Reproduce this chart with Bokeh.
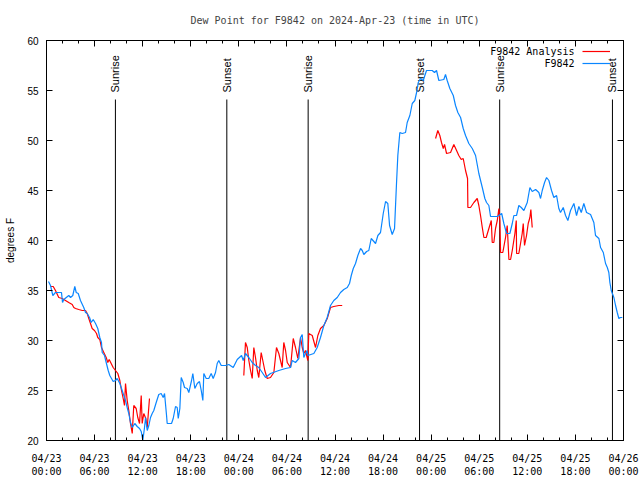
import math
from bokeh.plotting import figure
from bokeh.models import (Range1d, LinearAxis, FixedTicker, Legend, LegendItem, Label,
                          CustomLabelingPolicy)
from bokeh.embed import file_html
from bokeh.resources import INLINE

# ---------------- data (hours since 2024-04-23 00:00 UTC, dew point in F) ----------------
title_text = "Dew Point for F9842 on 2024-Apr-23 (time in UTC)"
y_label = "degrees F"
series_names = ["F9842 Analysis", "F9842"]

x_ticks = [0, 6, 12, 18, 24, 30, 36, 42, 48, 54, 60, 66, 72]
x_minor_ticks = [2, 4, 8, 10, 14, 16, 20, 22, 26, 28, 32, 34, 38, 40, 44, 46, 50, 52, 56, 58, 62, 64, 68, 70]
x_tick_labels = ["04/23\n00:00", "04/23\n06:00", "04/23\n12:00", "04/23\n18:00",
                 "04/24\n00:00", "04/24\n06:00", "04/24\n12:00", "04/24\n18:00",
                 "04/25\n00:00", "04/25\n06:00", "04/25\n12:00", "04/25\n18:00",
                 "04/26\n00:00"]
y_ticks = [20, 25, 30, 35, 40, 45, 50, 55, 60]

sun_event_hours = [8.6, 22.5, 32.65, 46.55, 56.55, 70.62]
sun_event_names = ["Sunrise", "Sunset", "Sunrise", "Sunset", "Sunrise", "Sunset"]

blue_hours = [
    0.25, 0.5, 0.79, 1.12, 1.87, 2.0, 2.16, 2.78, 3.0, 3.28,
    3.53, 3.71, 3.96, 4.24, 4.65, 4.87, 5.08, 5.37, 5.58, 5.83,
    6.12, 6.40, 6.65, 6.86, 6.95, 7.24, 7.45, 7.70, 7.90, 8.11,
    8.32, 8.61, 8.82, 9.15, 9.36, 9.65, 9.86, 10.07, 10.27, 10.48,
    10.70, 11.02, 11.32, 11.61, 11.82, 12.02, 12.23, 12.36, 12.57, 12.77,
    12.98, 13.19, 13.39, 13.69, 14.01, 14.31, 14.56, 14.73, 14.98, 15.06,
    15.6, 15.81, 16.10, 16.31, 16.44, 16.64, 16.81, 17.06, 17.22, 17.56,
    17.76, 18.10, 18.26, 18.51, 18.81, 19.09, 19.31, 19.51, 19.63, 19.93,
    20.25, 20.55, 20.80, 21.09, 21.30, 21.50, 21.80, 22.34, 22.75, 23.30,
    23.80, 24.34, 24.55, 24.83, 25.25, 25.67, 26.08, 26.49, 26.92, 27.33,
    27.95, 28.99, 29.83, 30.45, 30.66, 31.07, 31.49, 31.70, 31.91, 32.11,
    32.32, 32.53, 32.61, 33.36, 33.78, 34.19, 34.61, 35.03, 35.44, 35.85,
    36.28, 36.69, 37.10, 37.53, 37.81, 38.03, 38.28, 38.56, 38.85, 39.19,
    39.40, 39.60, 39.94, 40.22, 40.52, 40.85, 41.06, 41.35, 41.68, 42.02,
    42.31, 42.59, 42.81, 43.14, 43.43, 43.68, 43.84, 44.09, 44.39, 44.80,
    45.01, 45.34, 45.64, 45.96, 46.18, 46.39, 46.67, 47.01, 47.42, 48.13,
    48.42, 48.67, 48.96, 49.58, 49.79, 50.0, 50.33, 50.76, 51.04, 51.33,
    51.67, 52.0, 52.29, 52.70, 53.13, 53.54, 53.95, 54.38, 54.70, 54.91,
    55.20, 55.41, 56.25, 56.8, 57.07, 57.41, 57.82, 58.12, 58.32, 58.65,
    58.94, 59.24, 59.57, 59.99, 60.32, 60.61, 61.03, 61.44, 61.65, 61.86,
    62.15, 62.40, 62.69, 63.02, 63.31, 63.65, 63.93, 64.14, 64.48, 64.77,
    65.06, 65.39, 65.81, 66.14, 66.43, 66.73, 67.05, 67.39, 67.89, 68.30,
    68.51, 68.93, 69.14, 69.48, 69.76, 69.98, 70.17, 70.30, 70.47, 70.80,
    71.01, 71.22, 71.42, 71.63, 71.85,
]
blue_dewpt = [
    35.9, 35.5, 34.5, 34.8, 34.8, 33.8, 34.1, 34.5, 34.3, 34.5,
    35.4, 34.8, 34.7, 34.0, 33.3, 32.8, 32.7, 32.3, 31.8, 32.1,
    31.7, 31.2, 30.3, 29.8, 28.8, 28.5, 27.8, 27.0, 26.5, 26.2,
    25.9, 26.0, 26.2, 25.7, 25.2, 24.5, 24.0, 23.3, 22.7, 21.8,
    21.3, 21.7, 21.4, 21.2, 20.9, 20.0, 21.3, 22.3, 21.0, 21.5,
    22.3, 22.7, 23.0, 23.8, 24.6, 24.7, 24.3, 24.7, 22.5, 21.7,
    21.7, 22.2, 23.4, 23.3, 22.2, 23.2, 26.3, 25.8, 25.3, 25.2,
    24.8, 26.0, 26.7, 25.2, 25.7, 25.9, 25.0, 24.0, 26.7, 26.2,
    26.2, 26.7, 26.2, 26.8, 27.7, 28.0, 27.5, 27.5, 27.6, 27.3,
    28.1, 28.5, 28.0, 28.7, 28.3, 27.8, 27.5, 27.3, 26.8, 26.3,
    26.7, 27.0, 27.2, 27.3, 28.0, 27.8, 28.2, 30.3, 30.6, 28.3,
    28.7, 29.0, 28.5, 28.7, 29.3, 30.3, 31.5, 32.3, 33.5, 34.0,
    34.3, 34.8, 35.1, 35.3, 35.7, 36.5, 37.2, 37.7, 38.5, 39.2,
    39.0, 38.6, 38.9, 39.0, 40.2, 39.9, 39.7, 40.5, 40.8, 42.7,
    43.9, 43.7, 41.5, 40.6, 41.2, 45.8, 48.5, 50.8, 50.7, 50.8,
    51.8, 52.5, 53.7, 54.0, 54.8, 55.8, 56.2, 56.0, 57.0, 57.0,
    56.8, 57.0, 56.0, 56.1, 56.6, 56.0, 55.2, 54.5, 53.5, 52.8,
    52.3, 51.2, 50.5, 49.7, 49.2, 48.5, 46.7, 45.3, 44.2, 43.8,
    43.5, 42.4, 42.4, 42.7, 41.7, 40.7, 40.7, 41.7, 42.5, 42.5,
    43.5, 43.3, 43.0, 43.8, 45.3, 44.9, 45.1, 44.8, 44.2, 45.0,
    45.8, 46.3, 46.0, 45.0, 44.3, 44.5, 43.2, 42.8, 43.3, 42.5,
    42.0, 43.0, 43.7, 42.5, 43.4, 42.8, 43.7, 42.8, 42.6, 41.8,
    40.5, 40.2, 39.3, 38.8, 37.7, 37.3, 36.8, 35.8, 35.0, 34.3,
    33.5, 32.8, 32.2, 32.3, 32.3,
]

red1_hours = [
    0.5, 0.84, 1.12, 1.53, 1.96, 2.37, 2.78, 3.21, 3.41, 3.62,
    4.03, 4.46, 4.87, 5.08, 5.28, 5.49, 5.70, 5.99, 6.24, 6.40,
    6.65, 6.86, 7.15, 7.45, 7.65, 7.82, 8.07, 8.32, 8.61, 8.90,
    9.15, 9.36, 9.57, 9.73, 9.86, 10.07, 10.27, 10.48, 10.70, 10.89,
    11.19, 11.39, 11.61, 11.82, 11.94, 12.14, 12.39, 12.57, 12.85,
]
red1_dewpt = [
    35.4, 35.4, 35.0, 34.3, 34.2, 34.0, 33.8, 33.6, 33.3, 33.2,
    33.1, 33.0, 33.0, 32.7, 32.2, 31.7, 31.2, 31.0, 30.7, 30.3,
    30.1, 29.3, 28.8, 28.3, 27.8, 28.1, 27.7, 27.3, 27.0, 26.7,
    26.0, 25.0, 24.2, 23.5, 25.7, 24.0, 23.0, 21.7, 20.7, 23.5,
    23.2, 22.3, 21.7, 24.5, 21.7, 22.7, 22.2, 21.3, 24.2,
]
red2_hours = [
    24.62, 24.83, 25.05, 25.25, 25.46, 25.67, 25.87, 26.08, 26.30, 26.49,
    26.79, 26.99, 27.24, 27.54, 27.95, 28.37, 28.70, 28.99, 29.20, 29.41,
    29.61, 29.83, 30.04, 30.45, 30.79, 31.07, 31.36, 31.70, 31.91, 32.11,
    32.32, 32.61, 32.73, 33.16, 33.57, 33.86, 34.19, 34.61, 35.03, 35.44,
    35.85, 36.48, 36.90,
]
red2_dewpt = [
    26.5, 29.8, 29.3, 28.0, 27.0, 26.2, 29.3, 28.3, 27.0, 26.3,
    28.8, 28.0, 27.0, 26.2, 26.3, 26.8, 29.3, 28.7, 28.0, 27.3,
    29.8, 29.0, 27.8, 27.3, 30.2, 29.3, 28.2, 30.3, 29.3, 28.7,
    29.0, 28.0, 30.7, 30.5, 29.3, 30.5, 31.2, 31.5, 32.2, 33.3,
    33.4, 33.5, 33.5,
]
red3_hours = [
    48.55, 48.83, 49.08, 49.29, 49.51, 49.67, 49.92, 50.42, 50.83, 51.17,
    51.45, 51.75, 52.0, 52.29, 52.54, 52.58, 52.91, 53.33, 53.75, 53.95,
    54.16, 54.38, 54.58, 54.87, 55.20, 55.50, 55.62, 55.82, 56.03, 56.25,
    56.45, 56.57, 56.66, 56.94, 57.28, 57.49, 57.70, 57.91, 58.12, 58.45,
    58.62, 58.66, 58.94, 59.15, 59.36, 59.49, 59.65, 59.90, 60.11, 60.32,
    60.44, 60.61,
]
red3_dewpt = [
    50.2, 51.0, 50.5, 49.8, 49.2, 49.6, 48.7, 48.8, 49.6, 49.0,
    48.5, 48.1, 48.2, 47.0, 46.2, 43.3, 43.3, 43.8, 44.2, 43.5,
    42.5, 41.3, 40.3, 40.3, 41.2, 42.0, 39.8, 39.8, 41.2, 42.0,
    43.2, 42.0, 38.8, 38.8, 40.3, 41.5, 38.1, 38.1, 39.0, 40.7,
    42.0, 38.7, 38.7, 39.7, 40.7, 41.7, 39.5, 40.5, 41.7, 42.3,
    43.1, 41.3,
]

# ---------------- figure ----------------
Y_MIN, Y_MAX = y_ticks[0], y_ticks[-1]
SUN_LINE_TOP = 54.1
SUN_LABEL_Y = 54.8

MONO = "DejaVu Sans Mono"
SANS = "Liberation Sans"
BLUE = "#0a86ff"
RED = "#ff0000"

p = figure(width=640, height=480, x_range=Range1d(x_ticks[0], x_ticks[-1]),
           y_range=Range1d(Y_MIN, Y_MAX), output_backend="svg", toolbar_location=None,
           min_border_left=46, min_border_right=17, min_border_top=40, min_border_bottom=40)

p.title.text = title_text
p.title.align = "center"
p.title.text_font = MONO
p.title.text_font_size = "10px"
p.title.text_font_style = "normal"
p.title.standoff = 22

p.grid.visible = False
p.outline_line_color = "black"
p.outline_line_width = 1
p.background_fill_color = "white"
p.border_fill_color = "white"

xa = p.xaxis[0]
xa.ticker = FixedTicker(ticks=x_ticks, minor_ticks=x_minor_ticks)
xa.major_label_overrides = {t: lbl for t, lbl in zip(x_ticks, x_tick_labels)}
xa.major_label_text_font = MONO
xa.major_label_text_font_size = "10px"
xa.major_label_standoff = 12
xa.major_tick_in = 6
xa.major_tick_out = 0
xa.minor_tick_in = 3
xa.minor_tick_out = 0

ya = p.yaxis[0]
ya.ticker = FixedTicker(ticks=y_ticks)
ya.major_label_text_font = SANS
ya.major_label_text_font_size = "10px"
ya.major_label_standoff = 8
ya.major_tick_in = 6
ya.major_tick_out = 0
ya.minor_tick_in = 0
ya.minor_tick_out = 0
ya.axis_label = y_label
ya.axis_label_text_font = SANS
ya.axis_label_text_font_size = "10px"
ya.axis_label_text_font_style = "normal"
ya.axis_label_standoff = 8

for ax in (xa, ya):
    ax.axis_line_color = "black"
    ax.major_tick_line_color = "black"
    ax.minor_tick_line_color = "black"
    ax.major_label_text_color = "black"
    ax.axis_label_text_color = "black"

# mirrored ticks (no labels) on top and right, gnuplot style
no_labels = CustomLabelingPolicy(code="for (const i of indices) { indices.unset(i) }; return indices")
top_ax = LinearAxis(ticker=FixedTicker(ticks=x_ticks, minor_ticks=x_minor_ticks),
                    major_label_policy=no_labels, major_label_standoff=0,
                    major_label_text_font_size="1px",
                    major_tick_in=6, major_tick_out=0, minor_tick_in=3, minor_tick_out=0,
                    axis_line_color="black")
p.add_layout(top_ax, "above")
right_ax = LinearAxis(ticker=FixedTicker(ticks=y_ticks),
                      major_label_policy=no_labels, major_label_standoff=0,
                      major_label_text_font_size="1px",
                      major_tick_in=6, major_tick_out=0, minor_tick_in=0, minor_tick_out=0,
                      axis_line_color="black")
p.add_layout(right_ax, "right")

# sunrise / sunset markers
p.segment(x0=sun_event_hours, y0=[Y_MIN] * len(sun_event_hours),
          x1=sun_event_hours, y1=[SUN_LINE_TOP] * len(sun_event_hours),
          line_color="black", line_width=1)
p.text(x=sun_event_hours, y=[SUN_LABEL_Y] * len(sun_event_hours), text=sun_event_names,
       angle=math.pi / 2, text_align="left", text_baseline="middle",
       text_font_size="11px", text_font={"value": SANS}, text_color="black")

# series: analysis (red) in three pieces separated by gaps; station (blue)
nan = float("nan")
red_x = red1_hours + [nan] + red2_hours + [nan] + red3_hours
red_y = red1_dewpt + [nan] + red2_dewpt + [nan] + red3_dewpt
r_red = p.line(red_x, red_y, line_color=RED, line_width=1.2)
r_blue = p.line(blue_hours, blue_dewpt, line_color=BLUE, line_width=1.2)

# gnuplot-style key: text on the left, line sample on the right
legend = Legend(items=[LegendItem(label=" ", renderers=[r_red]),
                       LegendItem(label=" ", renderers=[r_blue])],
                location=(536, 371), glyph_width=28, glyph_height=12, label_height=12,
                label_standoff=0, label_text_font=MONO, label_text_font_size="10px",
                padding=0, spacing=0, margin=0,
                border_line_color=None, background_fill_alpha=0)
p.add_layout(legend)
for name, sy in zip(series_names, [389, 377]):
    p.add_layout(Label(x=528, y=sy, x_units="screen", y_units="screen", text=name,
                       text_align="right", text_baseline="middle", text_font=MONO,
                       text_font_size="10px", text_color="black"))

open("out.html", "w").write(file_html(p, INLINE))
